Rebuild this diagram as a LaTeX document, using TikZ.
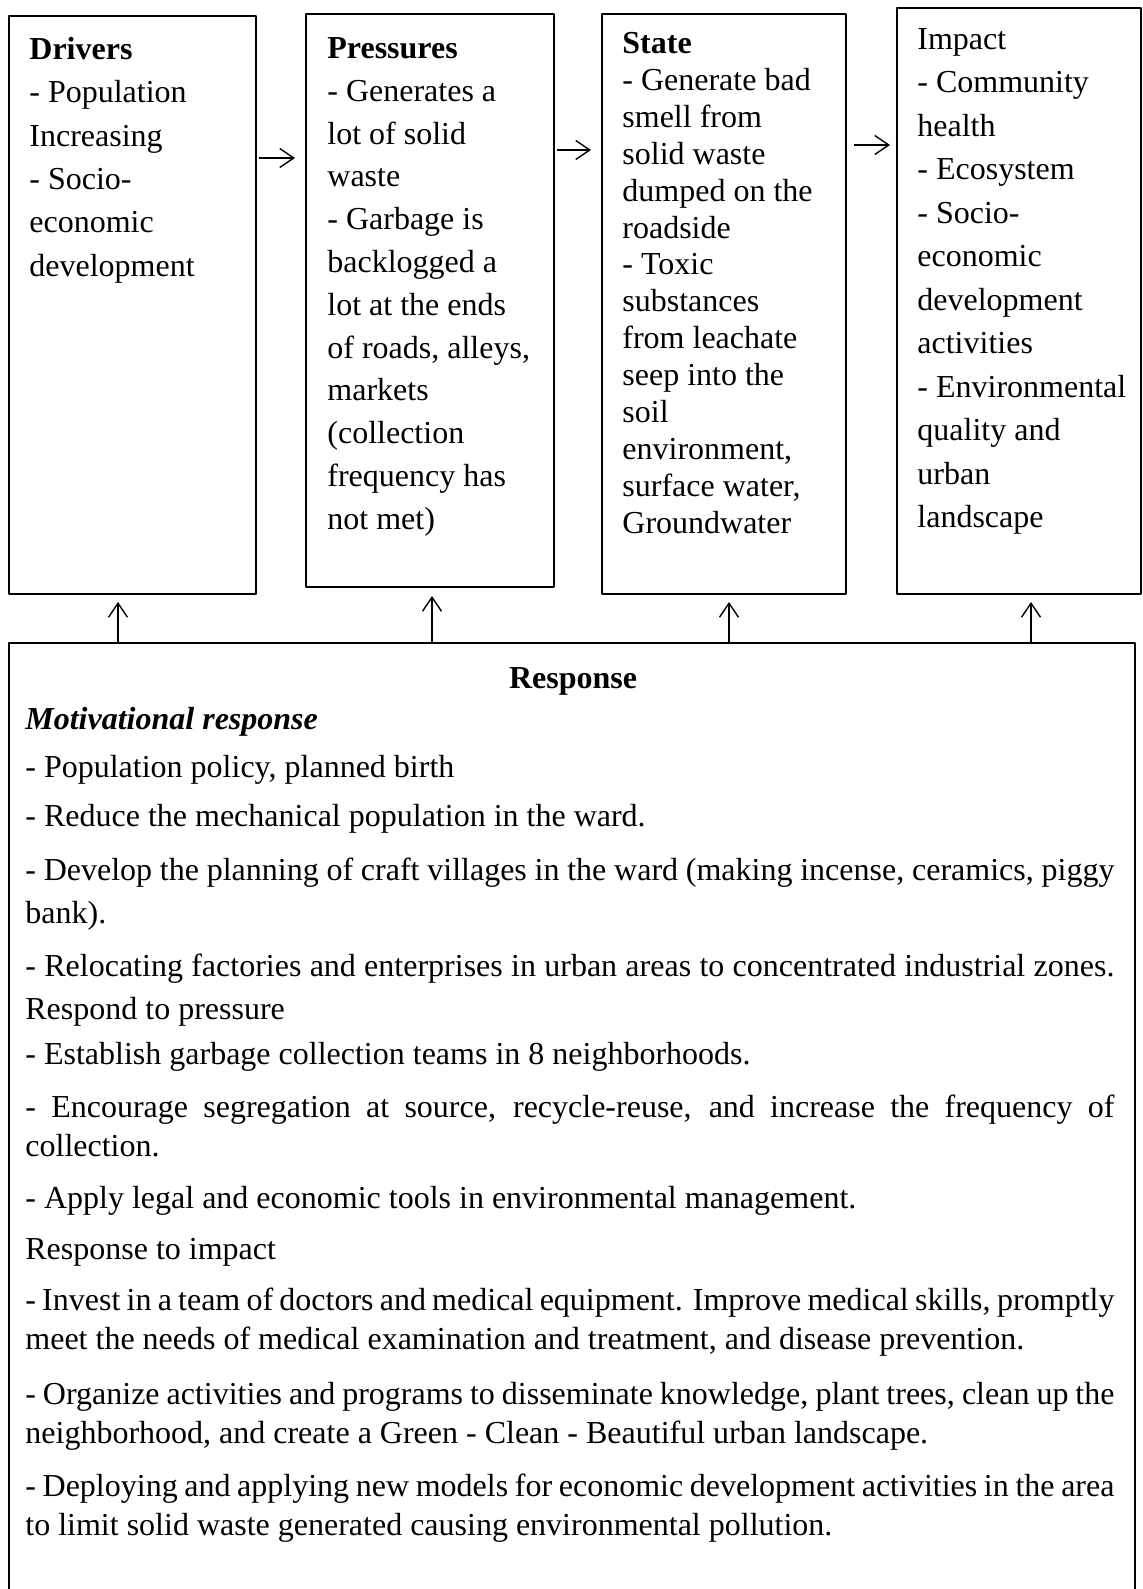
\documentclass[tikz,border=0pt]{standalone}
\usepackage{fontspec}
\setmainfont{Liberation Serif}
\usetikzlibrary{arrows.meta}
\setlength{\parindent}{0pt}
\tolerance=9999
\hyphenpenalty=10000
\newcommand{\rowtop}{\rule{0pt}{12pt}}
\begin{document}
\begin{tikzpicture}[x=0.5pt, y=-0.5pt, line join=round, >={Straight Barb[length=7pt,width=9.5pt]},
  box/.style={draw, line width=1pt, inner sep=0pt, anchor=north west},
  txt/.style={anchor=north west, inner sep=0pt, align=left},
  para/.style={anchor=north west, inner sep=0pt, text width=544.5pt, align=justify, font=\fontsize{16}{19.3}\selectfont},
  link/.style={->, line width=0.7pt}]
\useasboundingbox (0,0) rectangle (1142,1589);
% the four boxes on top
\node[box, minimum width=123.5pt, minimum height=289pt] (drivers) at (8,15) {};
\node[box, minimum width=124pt, minimum height=286.5pt] (pressures) at (305,13) {};
\node[box, minimum width=122pt, minimum height=290pt] (state) at (601,13) {};
\node[box, minimum width=122pt, minimum height=293pt] (impact) at (896,7) {};
\node[box, minimum width=563pt, minimum height=490pt] (response) at (8,642) {};
% box texts
\node[txt, font=\fontsize{16}{21.7}\selectfont] (drvtext) at (29,35) {\rowtop\textbf{Drivers}\\- Population\\Increasing\\- Socio-\\economic\\development};
\node[txt, font=\fontsize{16}{21.4}\selectfont] (prstext) at (327,34) {\rowtop\textbf{Pressures}\\- Generates a\\lot of solid\\waste\\- Garbage is\\backlogged a\\lot at the ends\\of roads, alleys,\\markets\\(collection\\frequency has\\not met)};
\node[txt, font=\fontsize{16}{18.46}\selectfont] (sttext) at (622,29) {\rowtop\textbf{State}\\- Generate bad\\smell from\\solid waste\\dumped on the\\roadside\\- Toxic\\substances\\from leachate\\seep into the\\soil\\environment,\\surface water,\\Groundwater};
\node[txt, font=\fontsize{16}{21.75}\selectfont] (imptext) at (917,25) {\rowtop Impact\\- Community\\health\\- Ecosystem\\- Socio-\\economic\\development\\activities\\- Environmental\\quality and\\urban\\landscape};
% response text
\node[anchor=base, inner sep=0pt, font=\fontsize{16}{20}\selectfont\bfseries] (resptitle) at (573,688) {Response};
\node[para] (r1) at (25,705) {\rowtop\textbf{\textit{Motivational response}}};
\node[para] (r2) at (25,753) {\rowtop- Population policy, planned birth};
\node[para] (r3) at (25,802) {\rowtop- Reduce the mechanical population in the ward.};
\node[para, font=\fontsize{16}{21.3}\selectfont] (r4) at (25,856) {\rowtop- Develop the planning of craft villages in the ward (making incense, ceramics, piggy \linebreak bank).};
\node[para, font=\fontsize{16}{21.3}\selectfont] (r5) at (25,952) {\rowtop- Relocating factories and enterprises in urban areas to concentrated industrial zones. \linebreak Respond to pressure};
\node[para] (r6) at (25,1040) {\rowtop- Establish garbage collection teams in 8 neighborhoods.};
\node[para] (r7) at (25,1093) {\rowtop- Encourage segregation at source, recycle-reuse, and increase the frequency of \linebreak collection.};
\node[para] (r8) at (25,1184) {\rowtop- Apply legal and economic tools in environmental management.};
\node[para] (r9) at (25,1235) {\rowtop Response to impact};
\node[para] (r10) at (25,1286) {\rowtop- Invest in a team of doctors and medical equipment. Improve medical skills, promptly \linebreak meet the needs of medical examination and treatment, and disease prevention.};
\node[para] (r11) at (25,1380) {\rowtop- Organize activities and programs to disseminate knowledge, plant trees, clean up the \linebreak neighborhood, and create a Green - Clean - Beautiful urban landscape.};
\node[para] (r12) at (25,1472) {\rowtop- Deploying and applying new models for economic development activities in the area \linebreak to limit solid waste generated causing environmental pollution.};
% arrows
\draw[link, shorten <=1pt, shorten >=5pt] (drivers.east |- 0,158) -- (pressures.west |- 0,158);
\draw[link, shorten <=1pt, shorten >=5pt] (pressures.east |- 0,150) -- (state.west |- 0,150);
\draw[link, shorten <=3.5pt, shorten >=3pt] (state.east |- 0,145) -- (impact.west |- 0,145);
\draw[link, shorten >=3.5pt] (response.north -| 118,0) -- (drivers.south -| 118,0);
\draw[link, shorten >=4pt] (response.north -| 432,0) -- (pressures.south -| 432,0);
\draw[link, shorten >=3.5pt] (response.north -| 729,0) -- (state.south -| 729,0);
\draw[link, shorten >=3.5pt] (response.north -| 1031,0) -- (impact.south -| 1031,0);
\end{tikzpicture}
\end{document}
